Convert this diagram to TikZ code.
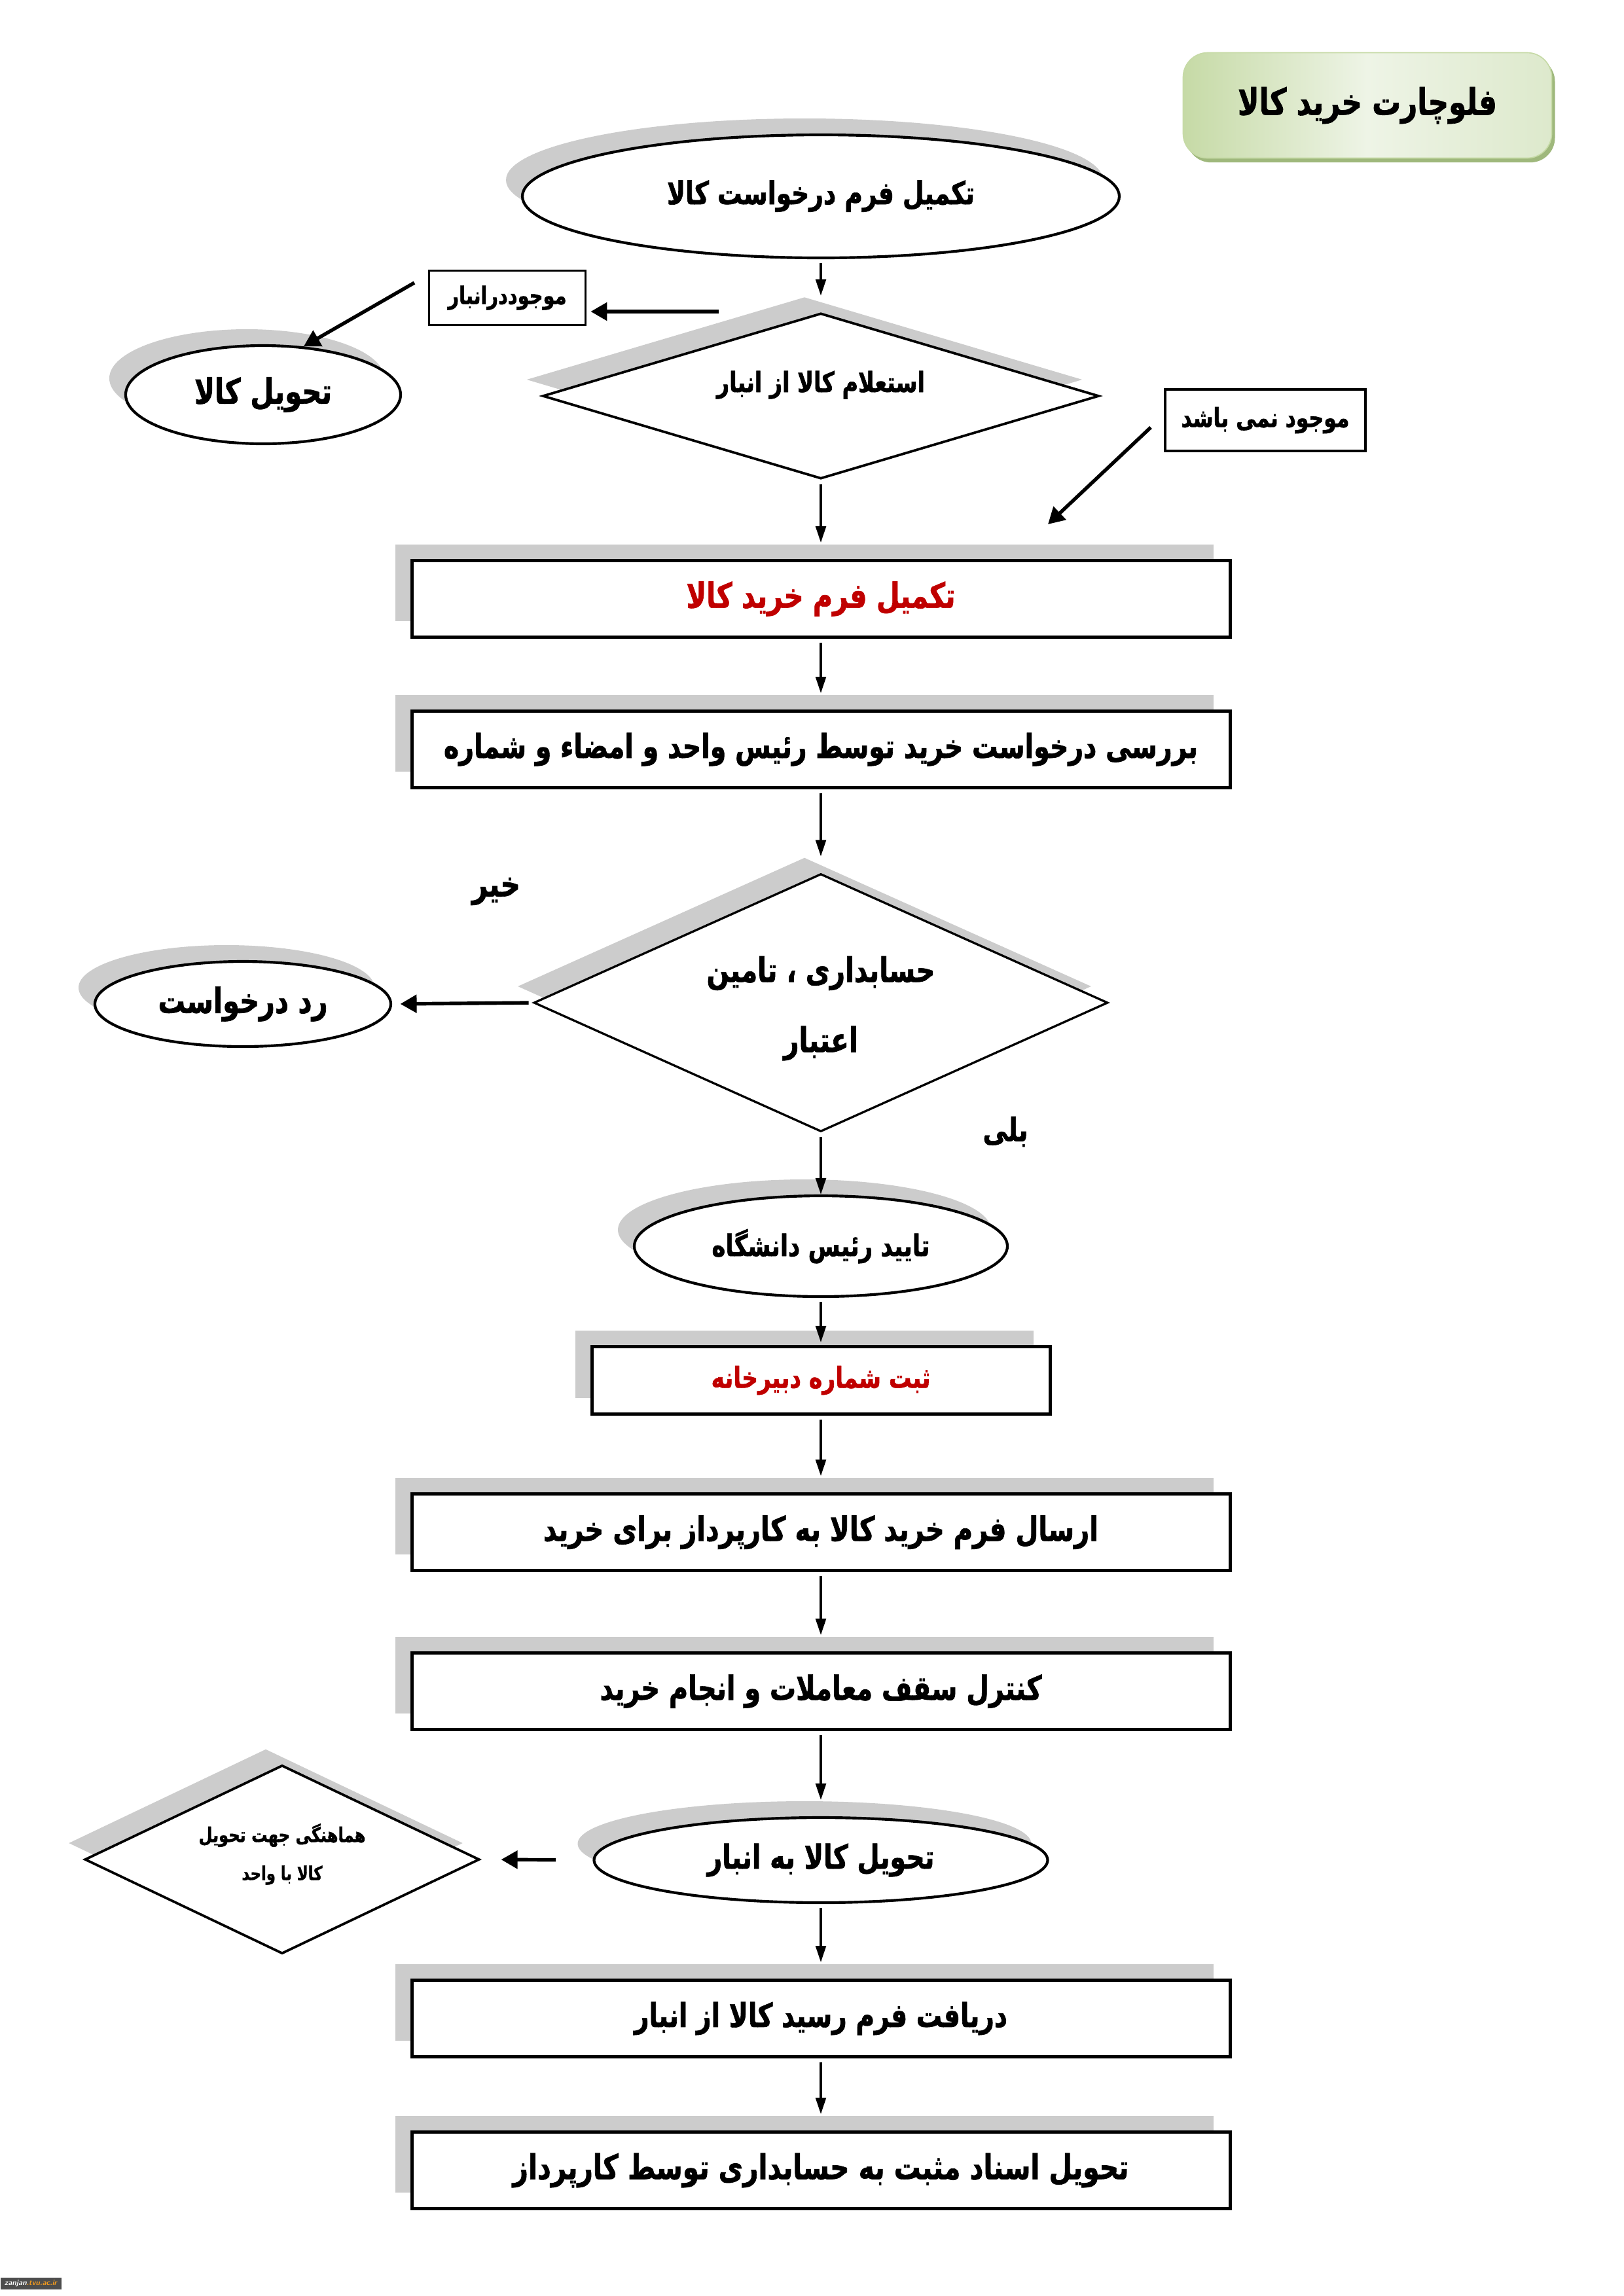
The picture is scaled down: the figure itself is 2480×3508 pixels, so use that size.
\documentclass[tikz,border=0pt]{standalone}
\usepackage{graphicx}
\usepackage{fontspec}
\usetikzlibrary{shapes.geometric,arrows.meta,shadows}
\TeXXeTstate=1
\newfontfamily\fa[Script=Arabic,FakeStretch=0.78,BoldFeatures={FakeBold=1.3}]{DejaVu Sans}
\definecolor{shd}{HTML}{CCCCCC}
\definecolor{dred}{HTML}{C00000}
\definecolor{tgreenA}{HTML}{C6DAA6}
\definecolor{tgreenB}{HTML}{EEF4E6}
\definecolor{tgreenC}{HTML}{DDE9CC}
\definecolor{tgreenD}{HTML}{9FB87C}
\definecolor{wmgray}{HTML}{4D4D4D}
\definecolor{wmorange}{HTML}{F29A1E}
\newdimen\pxu
\pxu=0.24bp
\newcommand{\fat}[2]{\resizebox{#1}{!}{\fa\bfseries #2}}
\begin{document}
\begin{tikzpicture}[x=0.24bp,y=-0.24bp,
  shdw/.style={general shadow={shadow xshift=-6bp,shadow yshift=6bp,fill=shd}},
  procbox/.style={rectangle,draw,line width=1.2bp,fill=white,inner sep=0pt,
    minimum width=1250*\pxu,minimum height=117*\pxu,shdw},
  ell/.style={ellipse,draw,line width=1bp,fill=white,inner sep=0pt,shdw},
  diam/.style={diamond,draw,line width=0.9bp,fill=white,inner sep=0pt,shdw},
  smallbox/.style={rectangle,draw,line width=0.8bp,fill=white,inner sep=0pt},
  txt/.style={inner sep=0pt},
  flow/.style={draw,line width=0.75bp,-{Triangle[length=6bp,width=3.8bp]},shorten <=1.5bp,shorten >=6bp},
  side/.style={draw,line width=1.3bp,-{Triangle[length=6bp,width=6.5bp]}}
]
\useasboundingbox (0,0) rectangle (2480,3508);
\fill[white] (0,0) rectangle (2480,3508);

% title
\node[rectangle,rounded corners=9bp,draw=tgreenA,line width=0.4bp,
  left color=tgreenA,right color=tgreenC,middle color=tgreenB,
  minimum width=563*\pxu,minimum height=161*\pxu,inner sep=0pt,
  drop shadow={shadow xshift=1.2bp,shadow yshift=-1.6bp,fill=tgreenD,opacity=1}]
  (T) at (2089,161) {\fat{396\pxu}{\beginR فلوچارت خرید کالا\endR}};

% main column
\node[ell,minimum width=912*\pxu,minimum height=188*\pxu] (E1) at (1254,300)
  {\raisebox{3bp}{\fat{470\pxu}{\beginR تکمیل فرم درخواست کالا\endR}}};
\node[diam,minimum width=850*\pxu,minimum height=253*\pxu] (D1) at (1254,605) {};
\node[txt] (D1t) at (1254,588) {\fat{318\pxu}{\beginR استعلام کالا از انبار\endR}};

\node[smallbox,minimum width=239*\pxu,minimum height=83*\pxu] (B1) at (775,455)
  {\fat{181\pxu}{\beginR موجوددرانبار\endR}};
\node[ell,minimum width=420*\pxu,minimum height=150*\pxu] (E2) at (402,603)
  {\fat{210\pxu}{\beginR تحویل کالا\endR}};
\node[smallbox,minimum width=306*\pxu,minimum height=94*\pxu] (B2) at (1933,642)
  {\fat{257\pxu}{\beginR موجود نمی باشد\endR}};

\node[procbox,text=dred] (R1) at (1254,915) {\fat{411\pxu}{\beginR تکمیل فرم خرید کالا\endR}};
\node[procbox] (R2) at (1254,1145) {\fat{1152\pxu}{\beginR بررسی درخواست خرید توسط رئیس واحد و امضاء و شماره\endR}};

\node[diam,line width=0.8bp,minimum width=877*\pxu,minimum height=394*\pxu] (D2) at (1254,1532) {};
\node[txt] (D2a) at (1254,1487) {\fat{349\pxu}{\beginR حسابداری ، تامین\endR}};
\node[txt] (D2b) at (1254,1594) {\fat{114\pxu}{\beginR اعتبار\endR}};
\node[txt] (NO) at (758,1362) {\fat{74\pxu}{\beginR خیر\endR}};
\node[txt] (YES) at (1536,1729) {\fat{69\pxu}{\beginR بلی\endR}};
\node[ell,minimum width=452*\pxu,minimum height=130*\pxu] (E3) at (371,1534)
  {\fat{259\pxu}{\beginR رد درخواست\endR}};

\node[ell,minimum width=570*\pxu,minimum height=154*\pxu] (E4) at (1254,1904)
  {\fat{333\pxu}{\beginR تایید رئیس دانشگاه\endR}};
\node[procbox,minimum width=700*\pxu,minimum height=103*\pxu,text=dred] (R3) at (1254,2109)
  {\fat{335\pxu}{\beginR ثبت شماره دبیرخانه\endR}};
\node[procbox] (R4) at (1254,2341) {\fat{848\pxu}{\beginR ارسال فرم خرید کالا به کارپرداز برای خرید\endR}};
\node[procbox] (R5) at (1254,2584) {\fat{675\pxu}{\beginR کنترل سقف معاملات و انجام خرید\endR}};
\node[ell,minimum width=693*\pxu,minimum height=130*\pxu] (E5) at (1254,2842)
  {\fat{347\pxu}{\beginR تحویل کالا به انبار\endR}};
\node[diam,minimum width=603*\pxu,minimum height=288*\pxu] (D3) at (431,2841) {};
\node[txt] (D3a) at (431,2804) {\fat{255\pxu}{\beginR هماهنگی جهت تحویل\endR}};
\node[txt] (D3b) at (431,2865) {\fat{123\pxu}{\beginR کالا با واحد\endR}};
\node[procbox] (R6) at (1254,3084) {\fat{570\pxu}{\beginR دریافت فرم رسید کالا از انبار\endR}};
\node[procbox] (R7) at (1254,3316) {\fat{941\pxu}{\beginR تحویل اسناد مثبت به حسابداری توسط کارپرداز\endR}};

% watermark
\node[fill=wmgray,minimum width=93*\pxu,minimum height=18*\pxu,inner sep=0pt] (WM) at (47,3489)
  {\resizebox{80\pxu}{!}{\sffamily\bfseries\itshape\textcolor{white}{zanjan}\textcolor{wmorange}{.tvu.ac.ir}}};

% free ends
\coordinate (c1) at (1098,476);
\coordinate (c2) at (633,432);
\coordinate (c3) at (1758,653);
\coordinate (c4) at (1601,801);

% connectors
\draw[flow] (E1.south) -- (D1.north);
\draw[flow] (D1.south) -- (R1.north);
\draw[flow] (R1.south) -- (R2.north);
\draw[flow] (R2.south) -- (D2.north);
\draw[flow,shorten >=0pt] (D2.south) -- (E4.north);
\draw[flow,shorten >=1bp] (E4.south) -- (R3.north);
\draw[flow] (R3.south) -- (R4.north);
\draw[flow] (R4.south) -- (R5.north);
\draw[flow] (R5.south) -- (E5.north);
\draw[flow] (E5.south) -- (R6.north);
\draw[flow] (R6.south) -- (R7.north);

\draw[side,shorten >=1.5bp] (c1) -- (B1.east |- c1);
\draw[side] (c2) -- (E2.50);
\draw[side] (c3) -- (c4);
\draw[side,shorten <=1.5bp,shorten >=3bp] (D2.west) -- (E3.east);
\draw[side,shorten <=13.5bp,shorten >=7.5bp] (E5.west) -- (D3.east);
\end{tikzpicture}
\end{document}
